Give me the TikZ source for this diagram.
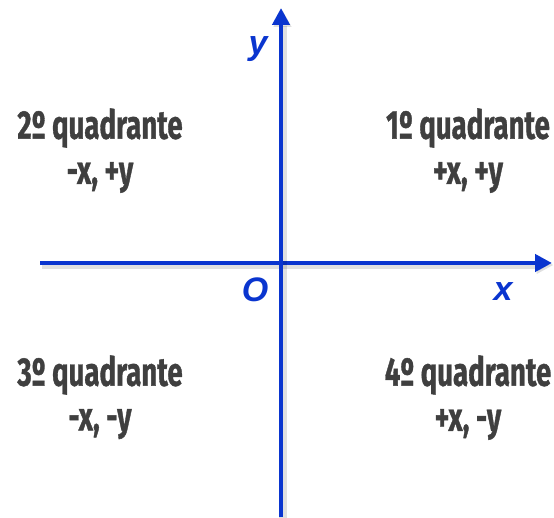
\documentclass[tikz,border=0pt]{standalone}
\usepackage{fontspec}
\usepackage{graphicx}
\setmainfont{Fira Sans}
\newfontfamily\quadfont[FakeBold=1.2]{Fira Sans Bold}
\newfontfamily\axisfont{Liberation Sans}
\usetikzlibrary{arrows.meta,positioning}
\definecolor{qaxis}{HTML}{0A35CF}
\definecolor{qtext}{HTML}{3F3F3F}
\tikzset{
  axisline/.style={draw=qaxis,line width=4.5pt,-{Triangle[length=17pt,width=17pt]},
    preaction={draw=black,opacity=.12,line width=8pt,transform canvas={xshift=1.5pt,yshift=-2pt}}},
  axislabel/.style={text=qaxis,font=\axisfont\bfseries\itshape\fontsize{34}{34}\selectfont,inner sep=0pt},
  quadname/.style={text=qtext,font=\quadfont\fontsize{40}{40}\selectfont,inner sep=0pt},
  quadsign/.style={quadname}
}
\newcommand{\narrow}[1]{\scalebox{0.69}[1]{#1}}
\begin{document}
\begin{tikzpicture}[x=1pt,y=1pt]
    \useasboundingbox (0,0) rectangle (554,517);
    % axes
    \coordinate (xl) at (40,254);
    \coordinate (xr) at (552,254);
    \coordinate (yb) at (281,0);
    \coordinate (yt) at (281,509);
    \draw[axisline] (xl)--(xr);
    \draw[axisline] (yb)--(yt);
    \node[axislabel] (ylab) at (258,468) {y};
    \node[axislabel] (xlab) at (503,225) {x};
    \node[axislabel] (olab) at (255,227) {O};
    % quadrants
    \node[quadname] (q1) at (468,389) {\narrow{1º quadrante}};
    \node[quadsign,below=14pt of q1] (s1) {\narrow{+x, +y}};
    \node[quadname] (q2) at (100,389) {\narrow{2º quadrante}};
    \node[quadsign,below=14pt of q2] (s2) {\narrow{-x, +y}};
    \node[quadname] (q3) at (100,142) {\narrow{3º quadrante}};
    \node[quadsign,below=14pt of q3] (s3) {\narrow{-x, -y}};
    \node[quadname] (q4) at (468,142) {\narrow{4º quadrante}};
    \node[quadsign,below=14pt of q4] (s4) {\narrow{+x, -y}};
\end{tikzpicture}
\end{document}
